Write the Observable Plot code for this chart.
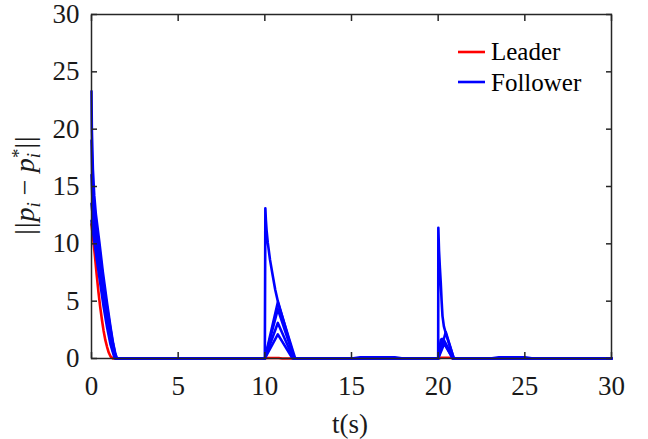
<!DOCTYPE html>
<html>
<head>
<meta charset="utf-8">
<script src="https://cdn.jsdelivr.net/npm/d3@7"></script>
<script src="https://cdn.jsdelivr.net/npm/@observablehq/plot@0.6"></script>
<style>
  html, body { margin: 0; padding: 0; background: #fff; }
  #chart { width: 648px; height: 439px; }
  #chart svg, #chart svg text, #chart svg tspan {
    font-family: "Liberation Serif", "Times New Roman", Times, serif !important;
  }
</style>
</head>
<body>
<div id="chart"></div>
<script>
// ---- data (t in seconds, error norm) ----
const xTicks = [0, 5, 10, 15, 20, 25, 30];
const yTicks = [0, 5, 10, 15, 20, 25, 30];
const seriesNames = ["Leader", "Follower"];

const leader = [[0,11.7],[0.1,10.4],[0.2,8.9],[0.3,7.3],[0.4,5.8],[0.5,4.5],[0.6,3.4],[0.7,2.4],[0.8,1.6],[0.9,1.0],[1.0,0.5],[1.1,0.18],[1.2,0.04],[1.25,0],
  [10,0],[10.1,0.05],[10.8,0.05],[11,0],[20,0],[20.15,0.06],[20.75,0.06],[20.85,0],[30,0]];

const follower1 = [[0,23.3],[0.02,20],[0.08,16.5],[0.16,14.2],[0.25,12.6],[0.45,10.2],[0.65,7.6],[0.9,4.8],[1.1,2.7],[1.25,1.3],[1.38,0.4],[1.47,0],
  [10,0],[10.03,13.1],[10.06,12.1],[10.1,11.2],[10.17,10.1],[10.3,8.6],[10.46,7.2],[10.6,6.0],[10.75,5.0],[11.7,0],
  [15,0],[15.5,0.1],[17.5,0.1],[18,0],
  [20,0],[20.2,1.7],[20.3,1.7],[20.9,0],[30,0]];
const follower2 = [[0,19],[0.04,16],[0.12,14],[0.25,12],[0.45,9.6],[0.65,7.1],[0.85,4.9],[1.05,3],[1.2,1.6],[1.35,0.5],[1.45,0],
  [10,0],[10.75,4.3],[11.7,0],
  [20,0],[20.01,11.4],[20.05,9.4],[20.1,7.9],[20.15,6.6],[20.2,5.0],[20.25,3.7],[20.33,2.8],[20.44,2.2],[20.9,0],
  [23,0],[23.5,0.1],[25,0.1],[25.5,0],[30,0]];
const follower3 = [[0,16],[0.05,14],[0.15,12.4],[0.3,10.5],[0.5,8.2],[0.7,5.9],[0.9,3.8],[1.1,2],[1.25,0.9],[1.4,0],
  [10,0],[10.75,3.1],[11.65,0],[20,0],[20.44,2.3],[20.9,0],[30,0]];
const follower4 = [[0,13.5],[0.1,12],[0.3,9.6],[0.5,7.3],[0.7,5.1],[0.9,3.1],[1.1,1.5],[1.25,0.6],[1.38,0],
  [10,0],[10.75,2.1],[11.6,0],[20,0],[20.35,1.3],[20.85,0],[30,0]];
const follower5 = [[0,12],[0.1,10.9],[0.3,8.7],[0.5,6.6],[0.7,4.5],[0.9,2.7],[1.1,1.2],[1.3,0.2],[1.36,0],
  [10,0],[10.75,4.9],[11.75,0],[20,0],[20.15,1.6],[20.3,1.5],[20.85,0],[30,0]];

const followers = [follower1, follower2, follower3, follower4, follower5];

// ---- tables for Plot ----
const leaderRows = leader.map(([t, v]) => ({t, v}));
const followerRows = followers.flatMap((s, i) => s.map(([t, v]) => ({t, v, id: i})));

const RED = "#ff0000", BLUE = "#0000ff", AX = "#262626";
const FONT = "Liberation Serif";

const plot = Plot.plot({
  width: 648,
  height: 439,
  marginLeft: 91,
  marginRight: 37,
  marginTop: 14,
  marginBottom: 81,
  x: {domain: [0, 30]},
  y: {domain: [0, 30]},
  style: {fontFamily: FONT, fontSize: "27px", color: AX, background: "#fff", overflow: "visible"},
  marks: [
    Plot.line(leaderRows, {x: "t", y: "v", stroke: RED, strokeWidth: 2.6}),
    Plot.line(followerRows, {x: "t", y: "v", z: "id", stroke: BLUE, strokeWidth: 2.6}),
    Plot.frame({stroke: AX, strokeWidth: 1.5}),
    // inward ticks on all four sides
    Plot.axisX(xTicks, {anchor: "bottom", tickSize: -6, tickFormat: () => "", label: null, strokeWidth: 1.5}),
    Plot.axisX(xTicks, {anchor: "top", tickSize: -6, tickFormat: () => "", label: null, strokeWidth: 1.5}),
    Plot.axisY(yTicks, {anchor: "left", tickSize: -6, tickFormat: () => "", label: null, strokeWidth: 1.5}),
    Plot.axisY(yTicks, {anchor: "right", tickSize: -6, tickFormat: () => "", label: null, strokeWidth: 1.5}),
    // tick labels
    Plot.axisX(xTicks, {anchor: "bottom", tickSize: 0, tickPadding: 17, label: null, tickFormat: d => String(d),
      fill: "#1a1a1a", fontFamily: FONT, fontSize: 27}),
    Plot.axisY(yTicks, {anchor: "left", tickSize: 0, tickPadding: 12, label: null, tickFormat: d => String(d),
      fill: "#1a1a1a", fontFamily: FONT, fontSize: 27})
  ]
});

const svg = d3.select(plot);

// x-axis title
svg.append("text")
  .attr("x", 350).attr("y", 433)
  .attr("text-anchor", "middle")
  .attr("font-family", FONT).attr("font-size", 27).attr("fill", "#1a1a1a")
  .text("t(s)");

// y-axis title: ||p_i − p_i^*||
const yl = svg.append("text")
  .attr("transform", "translate(34,185) rotate(-90)")
  .attr("text-anchor", "middle")
  .attr("font-family", FONT).attr("font-size", 28).attr("fill", "#1a1a1a");
yl.append("tspan").attr("letter-spacing", 1).text("||");
yl.append("tspan").attr("font-style", "italic").text("p");
yl.append("tspan").attr("font-style", "italic").attr("font-size", 19).attr("dy", 6).text("i");
yl.append("tspan").attr("dy", -6).text(" − ");
yl.append("tspan").attr("font-style", "italic").text("p");
yl.append("tspan").attr("font-style", "italic").attr("font-size", 19).attr("dy", 6).text("i");
yl.append("tspan").attr("font-size", 19).attr("dx", -5).attr("dy", -15).text("*");
yl.append("tspan").attr("dy", 9).attr("letter-spacing", 1).text("||");

// legend
const legend = svg.append("g").attr("font-family", FONT).attr("font-size", 25).attr("fill", "#000")
  .attr("text-anchor", "start");
[[seriesNames[0], RED, 52, 60], [seriesNames[1], BLUE, 82, 91]].forEach(([name, color, ly, ty]) => {
  legend.append("line").attr("x1", 458).attr("x2", 485).attr("y1", ly).attr("y2", ly)
    .attr("stroke", color).attr("stroke-width", 2.6);
  legend.append("text").attr("x", 491).attr("y", ty).attr("text-anchor", "start").text(name);
});

document.getElementById("chart").appendChild(plot);
</script>
</body>
</html>
